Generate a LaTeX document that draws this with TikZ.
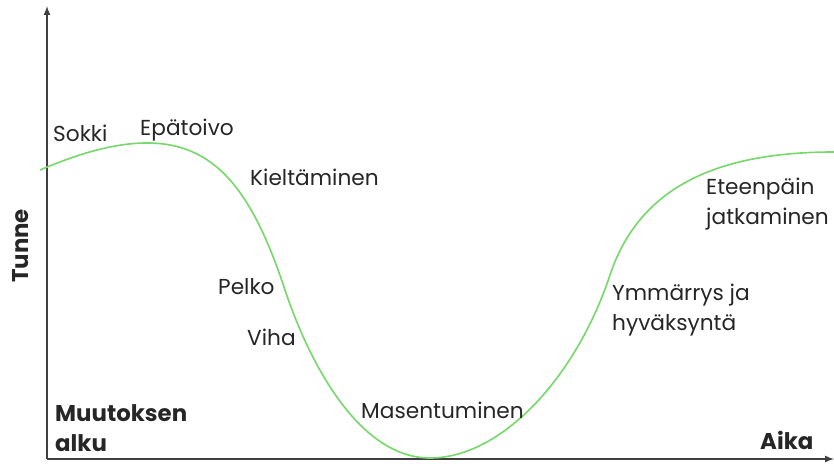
\documentclass[tikz,border=0pt]{standalone}
\usepackage{fontspec}
\setmainfont{Poppins}
\definecolor{curvegreen}{HTML}{78D86C}
\tikzset{
	lbl/.style={anchor=west, inner sep=0pt, font=\fontsize{18.5}{25}\selectfont, text=black!85, align=left},
	axlbl/.style={anchor=west, inner sep=0pt, font=\bfseries\fontsize{19.5}{25}\selectfont, text=black!85, align=left},
	axis/.style={draw=black!75, line width=1.6pt},
	curve/.style={draw=curvegreen, line width=1.4pt}
}
\begin{document}
\begin{tikzpicture}[x=0.03cm, y=-0.03cm]
	\useasboundingbox (0,0) rectangle (834,465);

	\coordinate (o) at (47,459);
	\coordinate (ytop) at (47,6);
	\coordinate (xend) at (834,459);

	\draw[axis,-latex] (o) -- (ytop);
	\draw[axis,-latex] (o) -- (xend);

	% the change curve
	\coordinate (start) at (40,170);
	\coordinate (peak) at (147,143);
	\coordinate (fall) at (285,290);
	\coordinate (low) at (430,458);
	\coordinate (rise) at (610,275);
	\coordinate (end) at (834,152);
	\draw[curve] (start) .. controls (80,153) and (115,143) .. (peak)
		.. controls (215,143) and (252,190) .. (fall)
		.. controls (310,365) and (360,458) .. (low)
		.. controls (500,458) and (575,380) .. (rise)
		.. controls (640,185) and (720,152) .. (end);

	\node[lbl] (sokki) at (53,133) {Sokki};
	\node[lbl] (epatoivo) at (140,130) {Epätoivo};
	\node[lbl] (kielt) at (250,177) {Kieltäminen};
	\node[lbl] (pelko) at (218,287) {Pelko};
	\node[lbl] (viha) at (247,337) {Viha};
	\node[lbl] (masent) at (361,410) {Masentuminen};
	\node[lbl] (ymm) at (612,310) {Ymmärrys ja\\hyväksyntä};
	\node[lbl] (eteen) at (706,204) {Eteenpäin\\jatkaminen};

	\node[axlbl] (alku) at (55,428) {Muutoksen\\alku};
	\node[axlbl] (aika) at (760,440) {Aika};
	\node[axlbl, rotate=90, anchor=center] (tunne) at (21,246) {Tunne};
\end{tikzpicture}
\end{document}
